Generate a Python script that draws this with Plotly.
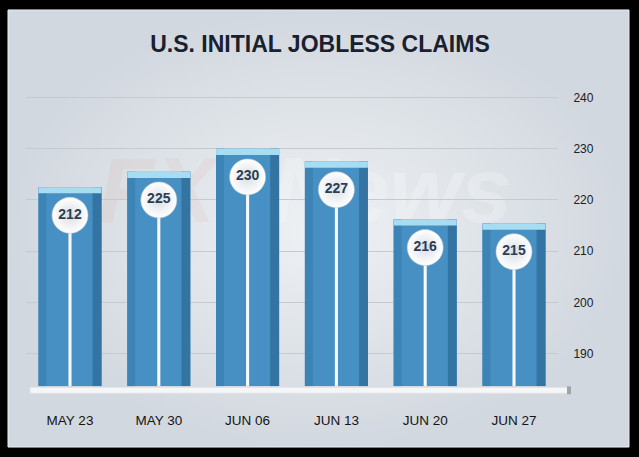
import plotly.graph_objects as go

# ---- data ----
categories = ["MAY 23", "MAY 30", "JUN 06", "JUN 13", "JUN 20", "JUN 27"]
labels = [212, 225, 230, 227, 216, 215]          # values printed in the circles
bar_tops = [222.5, 225.5, 230.0, 227.5, 216.2, 215.4]  # bar heights as drawn
y_ticks = [190, 200, 210, 220, 230, 240]

Y_MIN, Y_MAX = 183.6, 241.0
W, H = 639, 457
FONT = "Liberation Sans, Arial, sans-serif"

BW = 0.71
CAP = 1.2
CIRCLE_DROP = 5.5

fig = go.Figure()

# ---- background panel (pixel-space axes x/y) ----
fig.add_trace(go.Scatter(
    x=[8, 629, 629, 8, 8], y=[8, 8, 447, 447, 8],
    mode="lines", fill="toself",
    line=dict(color="#eceff2", width=1),
    fillgradient=dict(type="radial",
                      colorscale=[[0, "#eef1f4"], [1, "#d2d8df"]]),
    xaxis="x", yaxis="y", hoverinfo="skip", showlegend=False))
# faint watermark behind the bars
fig.add_trace(go.Scatter(
    x=[305], y=[198], mode="text",
    text=["<span style='color:rgba(225,120,90,0.07)'>FXT</span>"
          "<span style='color:rgba(255,255,255,0.22)'>News</span>"],
    textfont=dict(family=FONT, size=92, weight="bold", style="italic"),
    textposition="middle center",
    xaxis="x", yaxis="y", hoverinfo="skip", showlegend=False))

heights = [t - Y_MIN for t in bar_tops]
circle_y = [t - CIRCLE_DROP for t in bar_tops]

# main bar body
fig.add_trace(go.Bar(x=categories, y=heights, base=Y_MIN, width=BW,
                     marker=dict(color="#4690c3", line=dict(width=0)),
                     xaxis="x2", yaxis="y2", hoverinfo="skip"))
# left bevel strip
fig.add_trace(go.Bar(x=categories, y=heights, base=Y_MIN, width=0.09,
                     offset=-BW / 2,
                     marker=dict(color="#3d84b6", line=dict(width=0)),
                     xaxis="x2", yaxis="y2", hoverinfo="skip"))
# right darker strip
fig.add_trace(go.Bar(x=categories, y=heights, base=Y_MIN, width=0.1,
                     offset=BW / 2 - 0.1,
                     marker=dict(color="#3374a3", line=dict(width=0)),
                     xaxis="x2", yaxis="y2", hoverinfo="skip"))
# top cap
fig.add_trace(go.Bar(x=categories, y=[CAP] * len(categories),
                     base=[t - CAP for t in bar_tops], width=BW,
                     marker=dict(color="#a6ddf2", line=dict(width=0)),
                     xaxis="x2", yaxis="y2", hoverinfo="skip"))
# stick
fig.add_trace(go.Bar(x=categories, y=[c - Y_MIN for c in circle_y],
                     base=Y_MIN, width=0.035,
                     marker=dict(color="#f6f8fa", line=dict(width=0)),
                     xaxis="x2", yaxis="y2", hoverinfo="skip"))
# circles with labels
fig.add_trace(go.Scatter(
    x=categories, y=circle_y, mode="markers+text",
    marker=dict(size=36, color="#ffffff",
                gradient=dict(type="radial", color="#d9dee4"),
                line=dict(color="#c2c9d1", width=0.6)),
    text=[str(v) for v in labels], textposition="middle center",
    textfont=dict(family=FONT, size=14, color="#2b3e53", weight="bold"),
    xaxis="x2", yaxis="y2", hoverinfo="skip", showlegend=False))

fig.update_layout(
    width=W, height=H,
    margin=dict(l=0, r=0, t=0, b=0),
    paper_bgcolor="#000000",
    plot_bgcolor="rgba(0,0,0,0)",
    showlegend=False,
    barmode="overlay",
    hovermode=False,
    title=dict(text="U.S. INITIAL JOBLESS CLAIMS", x=320 / W, xanchor="center",
               y=1 - 42 / H, yanchor="middle", yref="paper",
               font=dict(family=FONT, size=23, color="#19202e", weight="bold")),
    xaxis=dict(domain=[0, 1], range=[0, W], visible=False, fixedrange=True),
    yaxis=dict(domain=[0, 1], range=[H, 0], visible=False, fixedrange=True),
    xaxis2=dict(domain=[25.6 / W, 558.4 / W], range=[-0.5, 5.5],
                anchor="y2", type="category", showgrid=False, zeroline=False,
                showline=False, ticks="", ticklabelstandoff=24,
                tickfont=dict(family=FONT, size=13.5, color="#141414")),
    yaxis2=dict(domain=[71 / H, (H - 90.85) / H], range=[Y_MIN, Y_MAX],
                anchor="x2", side="right", tickvals=y_ticks,
                showgrid=True, gridcolor="#c4cad1", gridwidth=1,
                zeroline=False, showline=False, ticks="",
                ticklabelstandoff=14,
                tickfont=dict(family=FONT, size=12, color="#202020")),
    shapes=[
        dict(type="rect", xref="x", yref="y", x0=30, x1=569, y0=387, y1=393,
             fillcolor="#f5f6f7", line=dict(color="#dfe2e6", width=1),
             layer="above"),
        dict(type="rect", xref="x", yref="y", x0=567, x1=571, y0=386, y1=394,
             fillcolor="#9ea4aa", line=dict(width=0), layer="above"),
    ],
)

fig.write_html("out.html")
